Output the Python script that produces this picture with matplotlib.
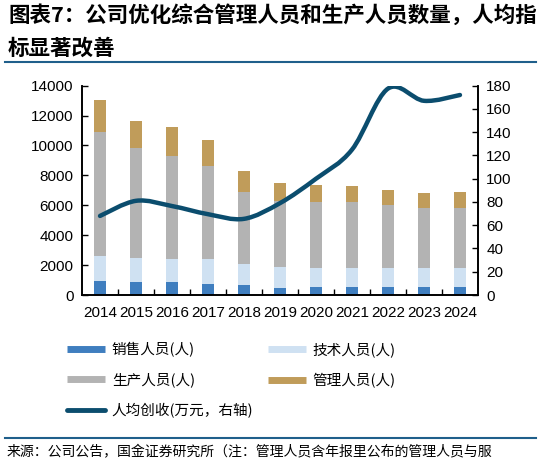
import matplotlib
matplotlib.use("Agg")
import matplotlib.pyplot as plt
import numpy as np
from matplotlib.path import Path
from matplotlib.patches import PathPatch
from matplotlib.lines import Line2D

plt.rcParams['font.family'] = ['Liberation Sans', 'Noto Sans CJK SC', 'DejaVu Sans']
CJK = ['Noto Sans CJK SC', 'DejaVu Sans']

# data
years = ['2014', '2015', '2016', '2017', '2018', '2019', '2020', '2021', '2022', '2023', '2024']
sales = [950, 870, 870, 760, 670, 470, 560, 560, 560, 560, 560]
tech = [1660, 1630, 1510, 1620, 1420, 1400, 1220, 1220, 1220, 1220, 1220]
prod = [8310, 7310, 6910, 6220, 4800, 4410, 4410, 4410, 4240, 4010, 4010]
mgmt = [2120, 1800, 1920, 1800, 1400, 1200, 1200, 1090, 980, 1000, 1090]
rev_per_head = [68, 81, 76.5, 69.5, 65.5, 79, 100, 125, 177.5, 167, 172]

c_sales = '#3f7ebf'
c_tech = '#cfe1f2'
c_prod = '#b3b3b3'
c_mgmt = '#c09c5a'
c_line = '#0b4d6e'

fig = plt.figure(figsize=(5.41, 4.67), dpi=100)
ax = fig.add_axes([0.1516, 0.3683, 0.7319, 0.4482])
ax2 = ax.twinx()

x = np.arange(len(years))
w = 0.33
b1 = np.array(sales)
b2 = b1 + np.array(tech)
b3 = b2 + np.array(prod)
ax.bar(x, sales, w, color=c_sales, zorder=2)
ax.bar(x, tech, w, bottom=b1, color=c_tech, zorder=2)
ax.bar(x, prod, w, bottom=b2, color=c_prod, zorder=2)
ax.bar(x, mgmt, w, bottom=b3, color=c_mgmt, zorder=2)

ax.set_xlim(-0.5, len(years) - 0.5)
ax.set_ylim(0, 14000)
ax.set_yticks(np.arange(0, 14001, 2000))
ax2.set_ylim(0, 180)
ax2.set_yticks(np.arange(0, 181, 20))

# smoothed line (catmull-rom as bezier segments)
pts = np.column_stack([x, rev_per_head]).astype(float)
verts = [tuple(pts[0])]
codes = [Path.MOVETO]
n = len(pts)
for i in range(n - 1):
    p0 = pts[max(i - 1, 0)]
    p1 = pts[i]
    p2 = pts[i + 1]
    p3 = pts[min(i + 2, n - 1)]
    c1 = p1 + (p2 - p0) / 6.0
    c2 = p2 - (p3 - p1) / 6.0
    verts += [tuple(c1), tuple(c2), tuple(p2)]
    codes += [Path.CURVE4] * 3
ax2.add_patch(PathPatch(Path(verts, codes), facecolor='none', edgecolor=c_line,
                        lw=3.2, capstyle='round', zorder=3))

ax.set_xticks(x)
ax.set_xticklabels(years)
ax.set_xticks(np.arange(0.5, len(years) - 1, 1.0), minor=True)
ax.tick_params(axis='x', which='major', length=0, pad=8, labelsize=11)
ax.tick_params(axis='x', which='minor', direction='in', length=4, width=1)
ax.tick_params(axis='y', direction='in', length=4, width=1, labelsize=11, pad=6)
ax2.tick_params(axis='y', direction='in', length=4, width=1, labelsize=11, pad=6)

for a in (ax, ax2):
    a.spines['top'].set_visible(False)
    for s in ('left', 'right', 'bottom'):
        a.spines[s].set_linewidth(1.2)

handles = [
    Line2D([], [], color=c_sales, lw=5, solid_capstyle='butt'),
    Line2D([], [], color=c_prod, lw=5, solid_capstyle='butt'),
    Line2D([], [], color=c_line, lw=3.5, solid_capstyle='round'),
    Line2D([], [], color=c_tech, lw=5, solid_capstyle='butt'),
    Line2D([], [], color=c_mgmt, lw=5, solid_capstyle='butt'),
]
labels = ['销售人员(人)', '生产人员(人)', '人均创收(万元，右轴)', '技术人员(人)', '管理人员(人)']
fig.legend(handles, labels, ncol=2, loc='upper left', bbox_to_anchor=(0.1, 0.295),
           frameon=False, prop={'family': CJK, 'size': 10.5}, handlelength=2.6,
           handletextpad=0.45, columnspacing=1.0, labelspacing=1.05)

fig.text(0.015, 0.968, '图表7：公司优化综合管理人员和生产人员数量，人均指', family=CJK,
         fontsize=15.5, fontweight='bold', va='center', ha='left')
fig.text(0.015, 0.897, '标显著改善', family=CJK, fontsize=15.5, fontweight='bold',
         va='center', ha='left')
fig.add_artist(Line2D([0.009, 0.991], [0.867, 0.867], color='#1f5f8b', lw=1.5,
                      transform=fig.transFigure))
fig.add_artist(Line2D([0.009, 0.991], [0.062, 0.062], color='#1f5f8b', lw=1.5,
                      transform=fig.transFigure))
fig.text(0.012, 0.032, '来源：公司公告，国金证券研究所（注：管理人员含年报里公布的管理人员与服',
         family=CJK, fontsize=10, va='center', ha='left')

fig.savefig('out.png', dpi=100)
